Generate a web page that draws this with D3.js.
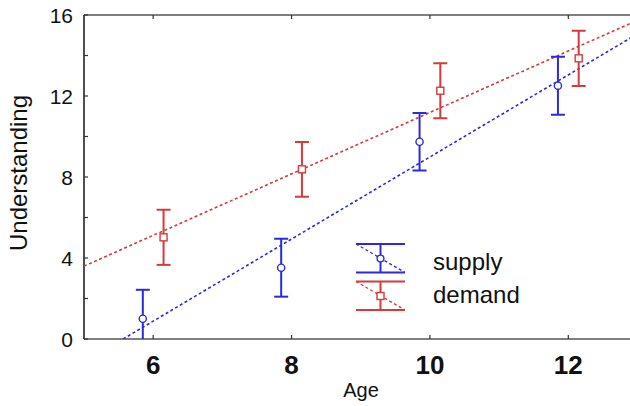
<!DOCTYPE html>
<html>
<head>
<meta charset="utf-8">
<script src="https://cdn.jsdelivr.net/npm/d3@7"></script>
<style>
  body { margin: 0; background: #fff; }
  svg { display: block; font-family: Arial, "Liberation Sans", sans-serif; }
</style>
</head>
<body>
<svg id="chart" width="630" height="406"></svg>
<script>
// values
let xTicks = [6, 8, 10, 12];
let yTicks = [0, 4, 8, 12, 16];
let yMinor = [2, 6, 10, 14];

let supplyAge  = [5.85, 7.85, 9.85, 11.85];
let supplyMean = [1.0, 3.52, 9.74, 12.51];
let supplyErr  = [1.43, 1.43, 1.42, 1.43];

let demandAge  = [6.15, 8.15, 10.15, 12.15];
let demandMean = [5.02, 8.38, 12.26, 13.86];
let demandErr  = [1.36, 1.35, 1.36, 1.36];

// fitted lines, two end points each [age, understanding]
let supplyFit = [[5.565, 0], [13, 15.07]];
let demandFit = [[5, 3.6], [13, 15.74]];

let blue = "#2b2bdc";
let red = "#d63a3a";

let svg = d3.select("#chart");

let margin = { top: 15, left: 84, bottom: 67 };
let x = d3.scaleLinear().domain([5, 13]).range([margin.left, 637.5]);
let y = d3.scaleLinear().domain([0, 16]).range([406 - margin.bottom, margin.top]);

// clip to plot area
svg.append("clipPath").attr("id", "clip")
  .append("rect")
  .attr("x", x(5)).attr("y", y(16))
  .attr("width", x(13) - x(5)).attr("height", y(0) - y(16));

// frame
let frame = svg.append("g").attr("stroke", "#555").attr("stroke-width", 1.6).attr("fill", "none");
frame.append("line").attr("x1", x(5)).attr("x2", x(13)).attr("y1", y(16)).attr("y2", y(16));
frame.append("line").attr("x1", x(5)).attr("x2", x(13)).attr("y1", y(0)).attr("y2", y(0));
frame.append("line").attr("x1", x(5)).attr("x2", x(5)).attr("y1", y(0)).attr("y2", y(16)).attr("stroke", "#222");
frame.append("line").attr("x1", x(13)).attr("x2", x(13)).attr("y1", y(0)).attr("y2", y(16));

// inward ticks
let ticks = svg.append("g").attr("stroke", "#333").attr("stroke-width", 1.2);
xTicks.forEach(t => {
  ticks.append("line").attr("x1", x(t)).attr("x2", x(t)).attr("y1", y(0)).attr("y2", y(0) - 4);
  ticks.append("line").attr("x1", x(t)).attr("x2", x(t)).attr("y1", y(16)).attr("y2", y(16) + 4);
});
yTicks.concat(yMinor).forEach(t => {
  ticks.append("line").attr("x1", x(5)).attr("x2", x(5) + 4).attr("y1", y(t)).attr("y2", y(t));
});

// tick labels
svg.append("g").selectAll("text").data(yTicks).join("text")
  .attr("x", x(5) - 11)
  .attr("y", d => y(d))
  .attr("dy", "0.36em")
  .attr("text-anchor", "end")
  .attr("font-size", 21)
  .attr("fill", "#111")
  .text(d => d);

svg.append("g").selectAll("text").data(xTicks).join("text")
  .attr("x", d => x(d))
  .attr("y", 374)
  .attr("text-anchor", "middle")
  .attr("font-size", 26)
  .attr("font-weight", "bold")
  .attr("fill", "#111")
  .text(d => d);

// axis titles
svg.append("text")
  .attr("x", 361).attr("y", 397)
  .attr("text-anchor", "middle")
  .attr("font-size", 20)
  .attr("fill", "#111")
  .text("Age");

svg.append("text")
  .attr("transform", "translate(27,173) rotate(-90)")
  .attr("text-anchor", "middle")
  .attr("font-size", 24)
  .attr("fill", "#111")
  .text("Understanding");

let plot = svg.append("g").attr("clip-path", "url(#clip)");

// regression lines
let line = d3.line().x(d => x(d[0])).y(d => y(d[1]));
[[demandFit, red], [supplyFit, blue]].forEach(([pts, c]) => {
  plot.append("path")
    .attr("d", line(pts))
    .attr("fill", "none")
    .attr("stroke", c)
    .attr("stroke-width", 1.6)
    .attr("stroke-dasharray", "3,2.5");
});

// error bars
let drawSeries = function(ages, means, errs, color, shape) {
  let g = plot.append("g").attr("stroke", color).attr("fill", "none");
  ages.forEach((a, i) => {
    let cx = x(a), lo = means[i] - errs[i], hi = means[i] + errs[i];
    g.append("line").attr("x1", cx).attr("x2", cx).attr("y1", y(lo)).attr("y2", y(hi)).attr("stroke-width", 2);
    [lo, hi].forEach(v => {
      g.append("line").attr("x1", cx - 7).attr("x2", cx + 7).attr("y1", y(v)).attr("y2", y(v)).attr("stroke-width", 2);
    });
    if (shape == "circle") {
      g.append("circle").attr("cx", cx).attr("cy", y(means[i])).attr("r", 3.6)
        .attr("fill", "#fff").attr("stroke-width", 1.4);
    } else {
      g.append("rect").attr("x", cx - 3.5).attr("y", y(means[i]) - 3.5).attr("width", 7).attr("height", 7)
        .attr("fill", "#fff").attr("stroke-width", 1.4);
    }
  });
};
drawSeries(supplyAge, supplyMean, supplyErr, blue, "circle");
drawSeries(demandAge, demandMean, demandErr, red, "square");

// legend
let legend = svg.append("g").attr("transform", "translate(356,244)");
[["supply", blue, "circle"], ["demand", red, "square"]].forEach(([name, c, shape], i) => {
  let g = legend.append("g").attr("transform", `translate(0,${i * 37.5})`).attr("stroke", c).attr("fill", "none");
  g.append("line").attr("x1", 0).attr("x2", 49).attr("y1", 0).attr("y2", 0).attr("stroke-width", 2);
  g.append("line").attr("x1", 0).attr("x2", 49).attr("y1", 28.5).attr("y2", 28.5).attr("stroke-width", 2);
  g.append("line").attr("x1", 0).attr("x2", 49).attr("y1", 0).attr("y2", 28.5)
    .attr("stroke-width", 1.3).attr("stroke-dasharray", "3,2.5");
  g.append("line").attr("x1", 24.5).attr("x2", 24.5).attr("y1", 0).attr("y2", 28.5).attr("stroke-width", 2);
  if (shape == "circle") {
    g.append("circle").attr("cx", 24.5).attr("cy", 14.5).attr("r", 3.4).attr("fill", "#fff").attr("stroke-width", 1.4);
  } else {
    g.append("rect").attr("x", 21).attr("y", 11).attr("width", 7).attr("height", 7).attr("fill", "#fff").attr("stroke-width", 1.4);
  }
});
legend.append("text").attr("x", 77).attr("y", 26).attr("font-size", 24).attr("fill", "#111").text("supply");
legend.append("text").attr("x", 77).attr("y", 58.5).attr("font-size", 24).attr("fill", "#111").text("demand");
</script>
</body>
</html>
